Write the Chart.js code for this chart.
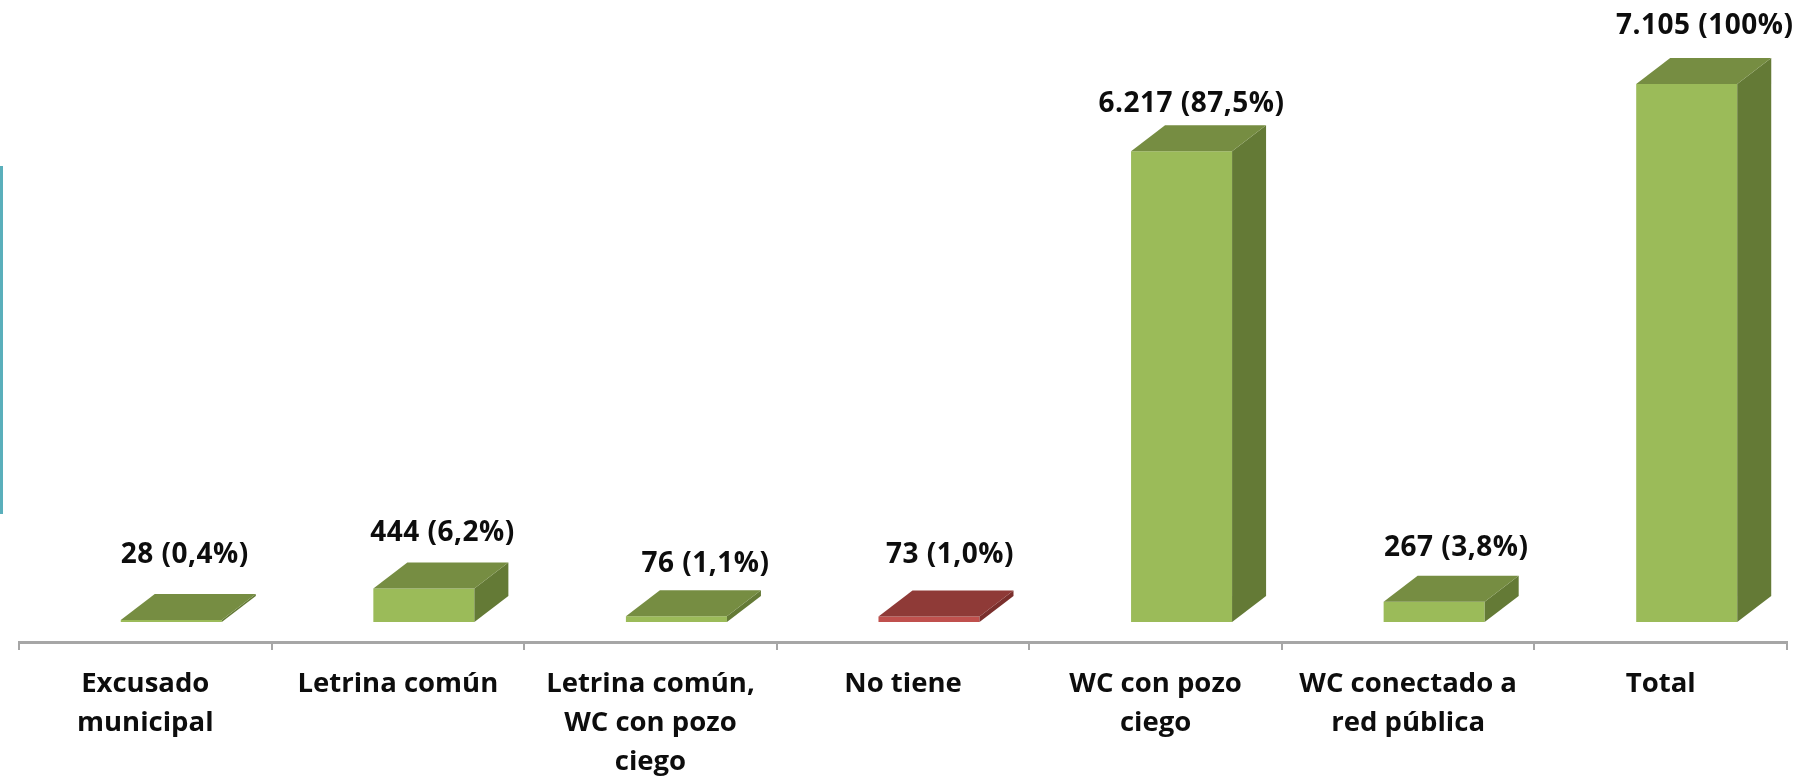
<!DOCTYPE html>
<html><head><meta charset="utf-8">
<style>
html,body{margin:0;padding:0;background:#fff;overflow:hidden}
#wrap{position:relative;width:1819px;height:780px}
#accent{position:absolute;left:0;top:166px;width:3px;height:348px;background:#5AAFBB;filter:blur(0.6px)}
canvas{display:block;filter:blur(0.6px)}
</style>
<script src="https://cdn.jsdelivr.net/npm/chart.js@4"></script>
</head><body>
<div id="wrap"><canvas id="c" width="1819" height="780"></canvas><div id="accent"></div></div>
<script>
const categories = [
  ["Excusado","municipal"],
  "Letrina común",
  ["Letrina común,","WC con pozo","ciego"],
  "No tiene",
  ["WC con pozo","ciego"],
  ["WC conectado a","red pública"],
  "Total"
];
const viviendas = [28, 444, 76, 73, 6217, 267, 7105];
const valueLabels = ["28 (0,4%)","444 (6,2%)","76 (1,1%)","73 (1,0%)","6.217 (87,5%)","267 (3,8%)","7.105 (100%)"];

const frontColors = ["#9BBB59","#9BBB59","#9BBB59","#C0504D","#9BBB59","#9BBB59","#9BBB59"];
const topColors   = ["#768D42","#768D42","#768D42","#8F3A37","#768D42","#768D42","#768D42"];
const sideColors  = ["#647A36","#647A36","#647A36","#7A2F2C","#647A36","#647A36","#647A36"];
const labelDX = [-3.5, 1.6, 12, 4, -7, 5, 1];
const labelLift = [39, 29, 26, 35, 21, 28, 32];
const DEPTH_X = 34, DEPTH_Y = 26, FRONT_SHIFT = 26;

const poly = (ctx, pts, fill) => {
  ctx.beginPath();
  pts.forEach((p,i)=> i ? ctx.lineTo(p[0],p[1]) : ctx.moveTo(p[0],p[1]));
  ctx.closePath();
  ctx.fillStyle = fill;
  ctx.fill();
};

const bars3d = {
  id: 'bars3d',
  beforeDatasetDraw(chart){ chart.ctx.save(); chart.ctx.translate(FRONT_SHIFT,0); },
  afterDatasetDraw(chart){
    const ctx = chart.ctx;
    const meta = chart.getDatasetMeta(0);
    meta.data.forEach((bar,i)=>{
      const half = bar.width/2, l = bar.x-half, r = bar.x+half, t = bar.y, b = bar.base;
      poly(ctx,[[r,b],[r+DEPTH_X,b-DEPTH_Y],[r+DEPTH_X,t-DEPTH_Y],[r,t]],sideColors[i]);
      poly(ctx,[[l,t],[l+DEPTH_X,t-DEPTH_Y],[r+DEPTH_X,t-DEPTH_Y],[r,t]],topColors[i]);
    });
    ctx.restore();
    ctx.save();
    ctx.fillStyle = '#0d0d0d';
    ctx.font = 'bold 28px "Open Sans"';
    ctx.letterSpacing = '0.5px';
    ctx.textAlign = 'center';
    ctx.textBaseline = 'middle';
    meta.data.forEach((bar,i)=>{
      ctx.fillText(valueLabels[i], bar.x+FRONT_SHIFT+DEPTH_X/2+labelDX[i], bar.y-DEPTH_Y-labelLift[i]);
    });
    ctx.restore();
  }
};

new Chart(document.getElementById('c'),{
  type:'bar',
  data:{labels:categories,datasets:[{
    data:viviendas,
    backgroundColor:frontColors,
    borderWidth:0,
    categoryPercentage:0.4,
    barPercentage:1
  }]},
  options:{
    responsive:false,
    animation:false,
    layout:{padding:{left:19,right:32,top:0,bottom:0}},
    plugins:{legend:{display:false},tooltip:{enabled:false}},
    scales:{
      x:{
        afterFit(s){ s.height = 138; },
        grid:{drawOnChartArea:false,drawTicks:true,tickLength:8,color:'#A6A6A6',lineWidth:2},
        border:{color:'#A6A6A6',width:3},
        ticks:{color:'#0d0d0d',font:{family:'"Open Sans"',size:27.5,weight:'bold',lineHeight:1.41},padding:15,maxRotation:0,autoSkip:false}
      },
      y:{display:false,min:-264,max:8214}
    }
  },
  plugins:[bars3d]
});
</script>
</body></html>
